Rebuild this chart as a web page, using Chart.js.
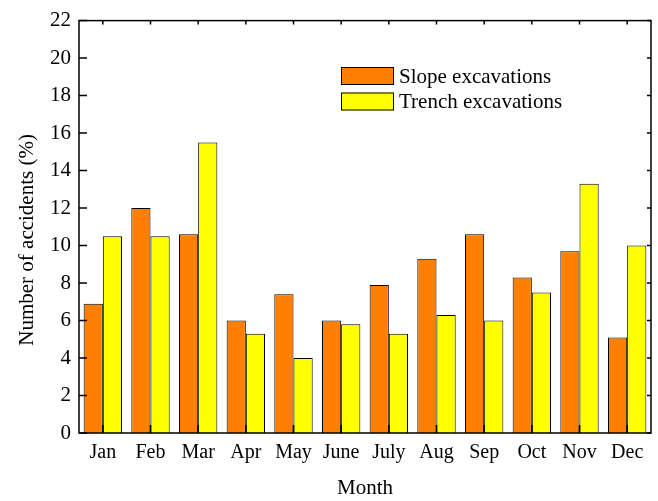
<!DOCTYPE html>
<html>
<head>
<meta charset="utf-8">
<script src="https://cdn.jsdelivr.net/npm/chart.js@4"></script>
<style>
    html, body { margin: 0; padding: 0; background: #fff; }
    #wrap { width: 658px; height: 501px; }
</style>
</head>
<body>
<div id="wrap"><canvas id="accidentChart" width="658" height="501"></canvas></div>
<script>
// Dáta odčítané z grafu
const months = ['Jan', 'Feb', 'Mar', 'Apr', 'May', 'June', 'July', 'Aug', 'Sep', 'Oct', 'Nov', 'Dec'];
const slopeValues = [6.9, 12.0, 10.6, 6.0, 7.4, 6.0, 7.9, 9.3, 10.6, 8.3, 9.7, 5.1];
const trenchValues = [10.5, 10.5, 15.5, 5.3, 4.0, 5.8, 5.3, 6.3, 6.0, 7.5, 13.3, 10.0];
const yTicks = [0, 2, 4, 6, 8, 10, 12, 14, 16, 18, 20, 22];
const yTitle = 'Number of accidents (%)';

const FONT = "'Liberation Serif', 'Times New Roman', serif";

// Rámček okolo grafu a tiky smerujúce dovnútra
const framePlugin = {
    id: 'frame',
    afterDatasetsDraw(chart) {
        const { ctx, chartArea: a, scales } = chart;
        ctx.save();
        ctx.strokeStyle = '#000';
        ctx.lineWidth = 1.5;
        ctx.strokeRect(a.left, a.top, a.right - a.left, a.bottom - a.top);

        ctx.beginPath();
        yTicks.forEach(v => {
            const y = scales.y.getPixelForValue(v);
            ctx.moveTo(a.left, y); ctx.lineTo(a.left + 8, y);
            ctx.moveTo(a.right, y); ctx.lineTo(a.right - 4, y);
        });
        months.forEach((m, i) => {
            const x = scales.x.getPixelForValue(i);
            ctx.moveTo(x, a.bottom); ctx.lineTo(x, a.bottom - 8);
            ctx.moveTo(x, a.top); ctx.lineTo(x, a.top + 4);
        });
        ctx.stroke();

        // Názov osi Y (v origináli je mierne posunutý nadol)
        ctx.font = '21px ' + FONT;
        ctx.fillStyle = '#000';
        ctx.textAlign = 'center';
        ctx.textBaseline = 'middle';
        ctx.translate(27, scales.y.getPixelForValue(10.3));
        ctx.rotate(-Math.PI / 2);
        ctx.fillText(yTitle, 0, 0);
        ctx.restore();
    }
};

// Legenda vo vnútri grafu
const legendPlugin = {
    id: 'innerLegend',
    afterDraw(chart) {
        const { ctx } = chart;
        ctx.save();
        ctx.font = '21px ' + FONT;
        ctx.textBaseline = 'middle';
        chart.data.datasets.forEach((ds, i) => {
            const x = 341, y = 67 + i * 25.5;
            ctx.fillStyle = ds.backgroundColor;
            ctx.fillRect(x, y, 53, 18);
            ctx.strokeStyle = '#000';
            ctx.lineWidth = 1;
            ctx.strokeRect(x + 0.5, y + 0.5, 52, 17);
            ctx.fillStyle = '#000';
            ctx.fillText(ds.label, 399, y + 10);
        });
        ctx.restore();
    }
};

function createChart() {
    const ctx = document.getElementById('accidentChart').getContext('2d');
    new Chart(ctx, {
        type: 'bar',
        data: {
            labels: months,
            datasets: [{
                label: 'Slope excavations',
                data: slopeValues,
                backgroundColor: '#FF8000',
                borderColor: '#000',
                borderWidth: 1,
                categoryPercentage: 0.805,
                barPercentage: 1.0
            }, {
                label: 'Trench excavations',
                data: trenchValues,
                backgroundColor: '#FFFF00',
                borderColor: '#000',
                borderWidth: 1,
                categoryPercentage: 0.805,
                barPercentage: 1.0
            }]
        },
        options: {
            responsive: false,
            animation: false,
            layout: { padding: { left: 0, top: 15, right: 7, bottom: 0 } },
            plugins: {
                legend: { display: false },
                tooltip: { enabled: false }
            },
            scales: {
                x: {
                    grid: { display: false, drawTicks: false },
                    border: { display: false },
                    ticks: {
                        color: '#000',
                        padding: 8,
                        maxRotation: 0,
                        autoSkip: false,
                        font: { size: 20, family: FONT }
                    },
                    title: {
                        display: true,
                        text: 'Month',
                        color: '#000',
                        padding: { top: 1, bottom: 0 },
                        font: { size: 21, family: FONT }
                    },
                    afterFit(scale) { scale.height = 68; }
                },
                y: {
                    min: 0,
                    max: 22,
                    grid: { display: false, drawTicks: false },
                    border: { display: false },
                    afterBuildTicks(scale) { scale.ticks = yTicks.map(v => ({ value: v })); },
                    ticks: {
                        color: '#000',
                        padding: 8,
                        font: { size: 21, family: FONT }
                    },
                    afterFit(scale) { scale.width = 79; }
                }
            }
        },
        plugins: [framePlugin, legendPlugin]
    });
}

window.addEventListener('load', createChart);
</script>
</body>
</html>
